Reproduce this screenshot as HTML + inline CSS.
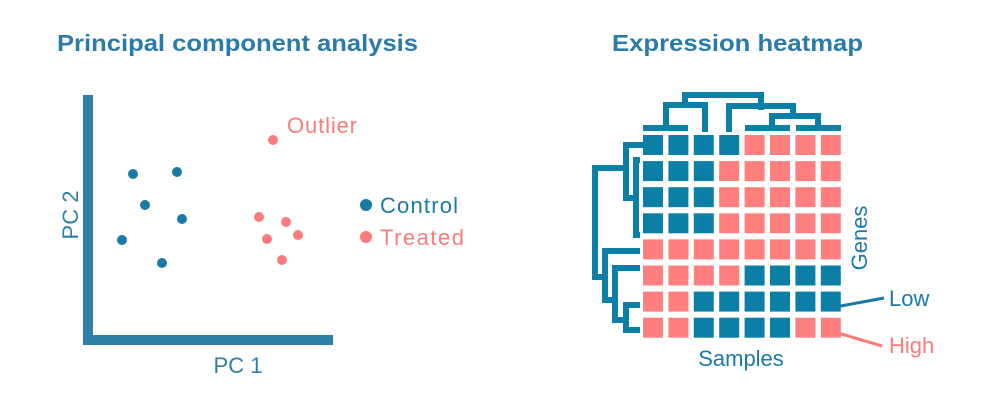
<!DOCTYPE html>
<html><head><meta charset="utf-8"><style>
html,body{margin:0;padding:0;background:#fff;width:1000px;height:400px;overflow:hidden}
svg{display:block}
text{font-family:"Liberation Sans",sans-serif}
</style></head><body>
<svg width="1000" height="400" viewBox="0 0 1000 400">
<text x="57" y="51" font-size="23" font-weight="bold" fill="#2a7ba8" textLength="361" lengthAdjust="spacingAndGlyphs">Principal component analysis</text>
<text x="612" y="51" font-size="23" font-weight="bold" fill="#2a7ba8" textLength="251" lengthAdjust="spacingAndGlyphs">Expression heatmap</text>
<rect x="83" y="95" width="10" height="250" fill="#2e7fa8"/>
<rect x="83" y="335" width="250" height="10" fill="#2e7fa8"/>
<g fill="#1b7aa5">
<circle cx="133" cy="174" r="5"/><circle cx="177" cy="172" r="5"/><circle cx="145" cy="205" r="5"/>
<circle cx="182" cy="219" r="5"/><circle cx="122" cy="240" r="5"/><circle cx="162" cy="263" r="5"/>
<circle cx="366" cy="205" r="6"/>
</g>
<g fill="#ff7b7b">
<circle cx="273" cy="140" r="5"/><circle cx="259" cy="217" r="5"/><circle cx="286" cy="222" r="5"/>
<circle cx="298" cy="235" r="5"/><circle cx="267" cy="239" r="5"/><circle cx="282" cy="260" r="5"/>
<circle cx="366" cy="237" r="6"/>
</g>
<text x="287" y="133" font-size="22" fill="#ff7b7b" textLength="70">Outlier</text>
<text x="380" y="213" font-size="22" fill="#1b7aa5" textLength="78">Control</text>
<text x="380" y="245" font-size="22" fill="#ff7b7b" textLength="84">Treated</text>
<text x="238" y="373" font-size="22" fill="#2e7fa8" text-anchor="middle">PC 1</text>
<text transform="translate(78,215) rotate(-90)" font-size="22" fill="#2e7fa8" text-anchor="middle">PC 2</text>
<g id="hm"></g>
<g fill="none" stroke="#0b7fa6" stroke-width="6">
<path d="M685,107 V95 H761 V110"/>
<path d="M666,127 V105 H705 V132"/>
<path d="M643,128 H688"/>
<path d="M729,132 V106 H793 V117"/>
<path d="M772,127 V116 H818 V127"/>
<path d="M745,128 H790"/>
<path d="M796,128 H841"/>
<path d="M626,168 H595 V277 H605"/>
<path d="M643,145 H626 V198 H636"/>
<path d="M640,160 H636 V235 H640"/>
<path d="M640,251 H605 V300 H615"/>
<path d="M640,268 H615 V320 H626"/>
<path d="M640,305 H626 V330 H640"/>
</g>
<text x="741" y="366" font-size="22" fill="#1b7aa5" text-anchor="middle">Samples</text>
<text transform="translate(867,238) rotate(-90)" font-size="22" fill="#1b7aa5" text-anchor="middle">Genes</text>
<line x1="830" y1="308" x2="884" y2="298" stroke="#1b7aa5" stroke-width="3"/>
<line x1="838" y1="333" x2="882" y2="346" stroke="#ff7b7b" stroke-width="3"/>
<text x="889" y="306" font-size="22" fill="#1b7aa5">Low</text>
<text x="889" y="353" font-size="22" fill="#ff7b7b">High</text>
</svg>
<script>
var m=["BBBBRRRR","BBBRRRRR","BBBRRRRR","BBBRRRRR","RRRRRRRR","RRRRBBBB","RRBBBBBB","RRBBBBRR"];
var g=document.getElementById("hm"),ns="http://www.w3.org/2000/svg";
for(var r=0;r<8;r++)for(var c=0;c<8;c++){var e=document.createElementNS(ns,"rect");
e.setAttribute("x",643+c*25.4);e.setAttribute("y",135+r*26.1);e.setAttribute("width",20);e.setAttribute("height",20);
e.setAttribute("fill",m[r][c]=="B"?"#0b7fa6":"#ff7f7f");g.appendChild(e);}
</script>
</body></html>
